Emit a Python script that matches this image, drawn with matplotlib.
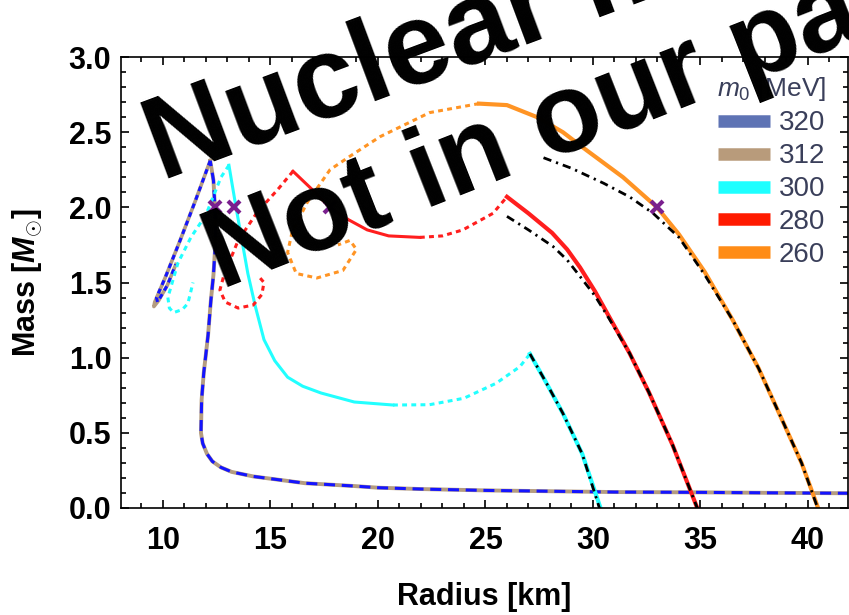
import matplotlib
matplotlib.use("Agg")
import matplotlib.pyplot as plt
from matplotlib.lines import Line2D
from matplotlib.ticker import MultipleLocator, FormatStrFormatter

plt.rcParams['font.family'] = ['Liberation Sans', 'DejaVu Sans']
plt.rcParams['font.weight'] = 'bold'
plt.rcParams['mathtext.fontset'] = 'custom'
plt.rcParams['mathtext.rm'] = 'Liberation Sans:regular'
plt.rcParams['mathtext.it'] = 'Liberation Sans:italic:regular'
plt.rcParams['mathtext.bf'] = 'Liberation Sans:bold'
plt.rcParams['mathtext.bfit'] = 'Liberation Sans:italic:bold'

# --- m0 = 320 / 312 MeV (nearly identical) ---
r_low = [41.9, 38.0, 35.0, 31.0, 25.0, 22.0, 20.0, 18.9, 16.6, 14.2, 13.2, 12.7, 12.3,
         12.05, 11.85, 11.77, 11.8, 11.9, 12.1, 12.23, 12.35, 12.45, 12.42, 12.35, 12.2]
m_low = [0.098, 0.101, 0.104, 0.106, 0.117, 0.126, 0.135, 0.146, 0.165, 0.21, 0.24, 0.27, 0.31,
         0.36, 0.43, 0.50, 0.72, 0.90, 1.15, 1.38, 1.55, 1.78, 2.00, 2.18, 2.31]
r320_unst = [12.2, 11.5, 10.8, 10.1, 9.7, 9.75, 10.2, 10.6]
m320_unst = [2.31, 2.04, 1.78, 1.53, 1.40, 1.37, 1.48, 1.62]
r312_unst = [12.2, 11.5, 10.8, 10.1, 9.62, 9.58, 9.8, 10.2, 10.6]
m312_unst = [2.31, 2.04, 1.78, 1.53, 1.37, 1.34, 1.38, 1.48, 1.62]

# --- m0 = 300 MeV ---
r300_stab1 = [13.07, 13.4, 13.95, 14.3, 14.7, 15.2, 15.8, 16.5, 17.35, 18.9, 20.7]
m300_stab1 = [2.28, 2.0, 1.56, 1.34, 1.12, 0.98, 0.87, 0.81, 0.765, 0.705, 0.685]
r300_unst1 = [13.07, 12.7, 12.0, 11.3, 10.7, 10.23, 10.3, 10.5, 10.9, 11.16, 11.4]
m300_unst1 = [2.28, 2.20, 1.95, 1.80, 1.63, 1.40, 1.33, 1.30, 1.32, 1.36, 1.50]
r300_unst2 = [20.7, 22.4, 24.0, 25.5, 26.6, 27.07]
m300_unst2 = [0.685, 0.687, 0.73, 0.83, 0.94, 1.025]
r300_stab2 = [27.07, 27.8, 28.6, 29.5, 30.35, 30.5]
m300_stab2 = [1.025, 0.84, 0.63, 0.36, 0.0, -0.05]
r300_alt = [27.07, 27.8, 28.6, 29.5, 30.3, 30.45]
m300_alt = [1.025, 0.84, 0.63, 0.36, 0.0, -0.05]

# --- m0 = 280 MeV ---
r280_unst1 = [16.05, 15.35, 14.4, 13.5, 12.84, 12.65, 12.9, 13.5, 14.2, 14.6, 14.7, 14.4]
m280_unst1 = [2.24, 2.12, 1.97, 1.78, 1.55, 1.45, 1.37, 1.33, 1.35, 1.42, 1.50, 1.55]
r280_stab1 = [16.05, 16.93, 17.77, 18.6, 19.5, 20.5, 21.95]
m280_stab1 = [2.24, 2.12, 2.0, 1.92, 1.85, 1.81, 1.80]
r280_unst2 = [21.95, 23.0, 23.95, 25.35, 26.0]
m280_unst2 = [1.80, 1.81, 1.85, 1.96, 2.07]
r280_stab2 = [26.0, 27.0, 28.1, 28.8, 29.4, 30.1, 30.8, 31.7, 32.6, 33.7, 34.85, 34.95]
m280_stab2 = [2.07, 1.96, 1.83, 1.72, 1.60, 1.44, 1.26, 1.03, 0.77, 0.42, 0.0, -0.05]
r280_alt = [26.0, 27.0, 28.14, 28.8, 29.4, 30.1, 30.75, 31.7, 32.6, 33.7, 34.85, 34.95]
m280_alt = [1.94, 1.85, 1.74, 1.65, 1.54, 1.41, 1.26, 1.03, 0.77, 0.42, 0.0, -0.05]

# --- m0 = 260 MeV ---
r260_unst = [24.7, 22.4, 20.1, 18.7, 17.77, 16.7, 16.0, 15.8, 16.2, 17.16, 18.37, 19.0, 18.7, 18.14]
m260_unst = [2.69, 2.63, 2.47, 2.34, 2.25, 2.03, 1.83, 1.70, 1.56, 1.53, 1.58, 1.72, 1.78, 1.75]
r260_stab = [24.7, 26.0, 27.4, 28.6, 29.7, 31.4, 32.98, 34.0, 35.2, 36.5, 37.7, 38.8, 39.7, 40.47, 40.55]
m260_stab = [2.69, 2.68, 2.60, 2.50, 2.38, 2.20, 2.0, 1.82, 1.57, 1.25, 0.93, 0.585, 0.30, 0.0, -0.05]
r260_alt = [27.7, 29.0, 30.5, 31.7, 32.8, 34.0, 35.2, 36.5, 37.7, 38.8, 39.7, 40.45, 40.53]
m260_alt = [2.33, 2.26, 2.16, 2.07, 1.96, 1.80, 1.55, 1.25, 0.93, 0.585, 0.30, 0.0, -0.05]

# 2 solar mass crossings
r_cross = [12.42, 13.3, 17.77, 32.98]
m_cross = [2.0, 2.0, 2.0, 2.0]

legend_labels = ['320', '312', '300', '280', '260']
legend_colors = ['#5e73b4', '#b89b7b', '#1effff', '#ff1a00', '#ff8c16']

c_blue = '#1414ff'
c_tan = '#b49c80'
c_cyan = '#22ffff'
c_red = '#ff1e1e'
c_orange = '#ff9424'

lw = 2.2
dotted = (0, (1.6, 1.4))
dashed = (0, (3.6, 2.2))
dashdot = (0, (3.0, 1.8, 0.8, 1.8))

fig = plt.figure(figsize=(8.49, 6.15), dpi=100)
ax = fig.add_axes([0.1425, 0.174, 0.8563, 0.7333])

# 312 under 320
ax.plot(r_low, m_low, color=c_tan, lw=lw + 0.6)
ax.plot(r312_unst, m312_unst, color=c_tan, lw=lw + 0.4)
ax.plot(r_low, m_low, color=c_blue, lw=lw, ls=dashed)
ax.plot(r320_unst, m320_unst, color=c_blue, lw=lw, ls=dotted)

ax.plot(r300_stab1, m300_stab1, color=c_cyan, lw=lw)
ax.plot(r300_unst1, m300_unst1, color=c_cyan, lw=lw, ls=dotted)
ax.plot(r300_unst2, m300_unst2, color=c_cyan, lw=lw, ls=dotted)
ax.plot(r300_stab2, m300_stab2, color=c_cyan, lw=lw + 0.8)

ax.plot(r280_unst1, m280_unst1, color=c_red, lw=lw, ls=dotted)
ax.plot(r280_stab1, m280_stab1, color=c_red, lw=lw)
ax.plot(r280_unst2, m280_unst2, color=c_red, lw=lw, ls=dotted)
ax.plot(r280_stab2, m280_stab2, color=c_red, lw=lw + 0.8)

ax.plot(r260_unst, m260_unst, color=c_orange, lw=lw, ls=dotted)
ax.plot(r260_stab, m260_stab, color=c_orange, lw=lw + 0.8)

for r, m in [(r300_alt, m300_alt), (r280_alt, m280_alt), (r260_alt, m260_alt)]:
    ax.plot(r, m, color='black', lw=2.0, ls=dashdot)

ax.plot(r_cross, m_cross, ls='none', marker='x', ms=8, mew=3, color='#7a1f8e', zorder=5)

ax.set_xlim(8.05, 41.86)
ax.set_ylim(0, 3)
ax.xaxis.set_major_locator(MultipleLocator(5))
ax.xaxis.set_minor_locator(MultipleLocator(1))
ax.yaxis.set_major_locator(MultipleLocator(0.5))
ax.yaxis.set_minor_locator(MultipleLocator(0.1))
ax.yaxis.set_major_formatter(FormatStrFormatter('%.1f'))
ax.tick_params(which='both', direction='in', top=True, right=True, width=1.2, labelsize=22)
ax.tick_params(which='major', length=6)
ax.tick_params(which='minor', length=3.5)
ax.tick_params(axis='x', pad=13)
ax.tick_params(axis='y', pad=7)
for s in ax.spines.values():
    s.set_linewidth(1.2)

ax.set_xlabel('Radius [km]', fontsize=22, fontweight='bold', va='center')
ax.set_ylabel(r'Mass [$\mathbfit{M}_{\odot}$]', fontsize=22, fontweight='bold', va='center')
ax.xaxis.set_label_coords(0.5, -0.197)
ax.yaxis.set_label_coords(-0.129, 0.5)

handles = [Line2D([], [], color=c, lw=9, solid_capstyle='butt') for c in legend_colors]
leg = ax.legend(handles, legend_labels, title=r'$m_0$ [MeV]', loc='upper right',
                bbox_to_anchor=(0.989, 0.99), frameon=False,
                prop={'size': 20, 'weight': 'normal'},
                title_fontproperties={'size': 19, 'weight': 'normal'},
                handlelength=1.87, handletextpad=0.32, labelspacing=0.25, borderpad=0,
                labelcolor='#3a3f5a')
leg.get_title().set_color('#3a3f5a')

# overlay stamp across the plot
wm = dict(fontweight='bold', color='black', rotation_mode='anchor',
          ha='left', va='baseline', zorder=10)
fig.text(0.190, 0.705, 'Nuclear matter', fontsize=84, rotation=20.5, **wm)
fig.text(0.2603, 0.5285, 'Not in our paper', fontsize=81, rotation=21.5, **wm)

fig.savefig('out.png', dpi=100)
